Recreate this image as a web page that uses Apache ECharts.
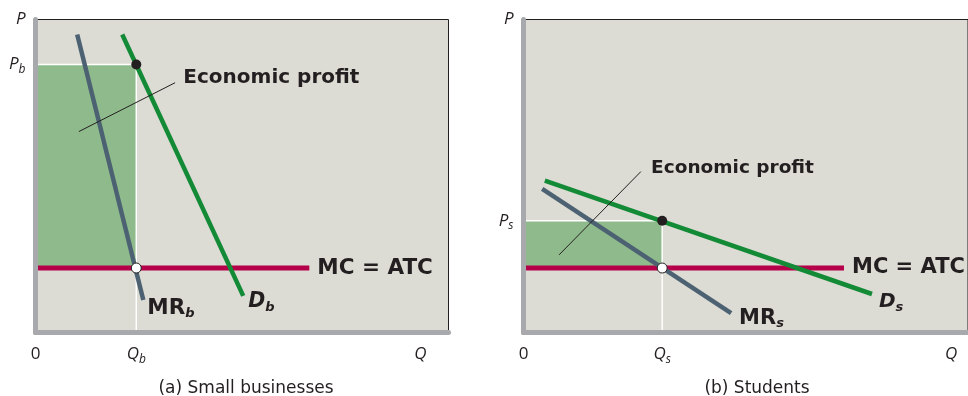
<!DOCTYPE html>
<html>
<head>
<meta charset="utf-8">
<script src="https://cdn.jsdelivr.net/npm/echarts@6/dist/echarts.min.js"></script>
<style>
  html, body { margin: 0; padding: 0; background: #ffffff; }
  #chart { width: 968px; height: 396px; }
</style>
</head>
<body>
<div id="chart"></div>
<script>
// Panel (a): small businesses — axis units run 0..100 on both axes
const demandA = [[21.0, 95.2], [50.3, 11.7]];
const marginalRevenueA = [[10.1, 95.2], [26.1, 10.4]];
const costA = [[0, 20.6], [66.3, 20.6]];
const equilibriumA = [24.4, 85.6];          // Q_b, P_b
const profitPointerA = [[33.8, 79.8], [10.5, 64.2]];
const profitLabelA = [35.8, 81.4];
const qTickA = 93.2;

// Panel (b): students
const demandB = [[4.8, 48.5], [78.4, 12.3]];
const marginalRevenueB = [[4.2, 45.9], [46.7, 6.2]];
const costB = [[0, 20.6], [72.1, 20.6]];
const equilibriumB = [31.2, 35.7];          // Q_s, P_s
const profitPointerB = [[26.4, 51.4], [8.0, 24.8]];
const profitLabelB = [28.7, 52.6];
const qTickB = 96.2;

const axisMax = 100;

// Text labels
const panelTitles = ['(a) Small businesses', '(b) Students'];
const subscripts = ['b', 's'];
const costLabel = 'MC = ATC';
const profitText = 'Economic profit';

const FONT = 'Open Sans';
const BOLD_FONT = 'DejaVu Sans';
const INK = '#231f20';
const BG = '#dcdbd4';
const PROFIT_FILL = '#8fbb8c';
const MC_COLOR = '#b5004a';
const D_COLOR = '#138a36';
const MR_COLOR = '#4c6272';
const AXIS_GREY = '#a8a9ac';

function richFor(boldSize, profitSize) {
  return {
    it: { fontFamily: FONT, fontStyle: 'italic', fontSize: 17, color: INK, lineHeight: 22 },
    sub: { fontFamily: FONT, fontStyle: 'italic', fontSize: 12, color: INK, lineHeight: 12, verticalAlign: 'bottom' },
    num: { fontFamily: FONT, fontSize: 17, color: INK, lineHeight: 22 },
    bold: { fontFamily: BOLD_FONT, fontWeight: 'bold', fontSize: boldSize, color: INK, lineHeight: 24 },
    profit: { fontFamily: BOLD_FONT, fontWeight: 'bold', fontSize: profitSize, color: INK, lineHeight: 24 },
    boldIt: { fontFamily: BOLD_FONT, fontWeight: 'bold', fontStyle: 'italic', fontSize: boldSize - 1, color: INK, lineHeight: 24 },
    boldSub: { fontFamily: BOLD_FONT, fontWeight: 'bold', fontStyle: 'italic', fontSize: 13, color: INK, lineHeight: 12, verticalAlign: 'bottom' }
  };
}
const richA = richFor(21.5, 20);
const richB = richFor(21, 18.5);

const grids = [
  { left: 35.5, top: 19.5, width: 413, height: 313 },
  { left: 523.5, top: 19.5, width: 448, height: 313 }
];

function makeXAxis(i, eq, qTick, sub, rich) {
  return {
    type: 'value', gridIndex: i, min: 0, max: axisMax, z: 5,
    axisLine: { show: true, lineStyle: { color: AXIS_GREY, width: 5 } },
    axisTick: { show: false },
    splitLine: { show: false },
    axisLabel: {
      show: true, margin: 11, customValues: [0, eq[0], qTick],
      formatter: function (v) {
        if (v === 0) return '{num|0}';
        if (v === eq[0]) return '{it|Q}{sub|' + sub + '}';
        return '{it|Q}';
      },
      rich: rich
    }
  };
}

function makeYAxis(i, eq, sub, rich) {
  return {
    type: 'value', gridIndex: i, min: 0, max: axisMax, z: 5,
    axisLine: { show: true, lineStyle: { color: AXIS_GREY, width: 5 } },
    axisTick: { show: false },
    splitLine: { show: false },
    axisLabel: {
      show: true, margin: 10, customValues: [eq[1], axisMax],
      formatter: function (v) {
        if (v === eq[1]) return '{it|P}{sub|' + sub + '}';
        return '{it|P}';
      },
      rich: rich
    }
  };
}

function panelSeries(i, d, mr, mc, eq, pointer, labelPos, sub, mrOffset, dOffset, rich) {
  const ax = { xAxisIndex: i, yAxisIndex: i };
  return [
    // profit rectangle between price and cost at the chosen quantity
    Object.assign({
      type: 'line', data: [], silent: true, z: 1,
      markArea: {
        silent: true,
        itemStyle: { color: PROFIT_FILL, opacity: 1 },
        data: [[{ coord: [0, eq[1]] }, { coord: [eq[0], mc[0][1]] }]]
      }
    }, ax),
    // white guide lines to the axes
    Object.assign({
      type: 'line', data: [[0, eq[1]], [eq[0], eq[1]], [eq[0], 0]],
      symbol: 'none', silent: true, z: 2,
      lineStyle: { color: '#ffffff', width: 1.5 }
    }, ax),
    // pointer to the profit label
    Object.assign({
      type: 'line', data: pointer, symbol: 'none', silent: true, z: 6,
      lineStyle: { color: INK, width: 1 }
    }, ax),
    // marginal cost = average total cost
    Object.assign({
      type: 'line', data: mc, symbol: 'none', z: 3,
      lineStyle: { color: MC_COLOR, width: 5, cap: 'butt' },
      endLabel: { show: true, formatter: '{bold|' + costLabel + '}', rich: rich, distance: 8 }
    }, ax),
    // marginal revenue
    Object.assign({
      type: 'line', data: mr, symbol: 'none', z: 4,
      lineStyle: { color: MR_COLOR, width: 4.5, cap: 'butt' },
      endLabel: { show: true, formatter: '{bold|MR}{boldSub|' + sub + '}', rich: rich, distance: 4, offset: mrOffset }
    }, ax),
    // demand
    Object.assign({
      type: 'line', data: d, symbol: 'none', z: 4,
      lineStyle: { color: D_COLOR, width: 4.5, cap: 'butt' },
      endLabel: { show: true, formatter: '{boldIt|D}{boldSub|' + sub + '}', rich: rich, distance: 5, offset: dOffset }
    }, ax),
    // price on the demand curve
    Object.assign({
      type: 'scatter', data: [eq], symbol: 'circle', symbolSize: 10, z: 7,
      itemStyle: { color: INK, opacity: 1 }
    }, ax),
    // MR = MC
    Object.assign({
      type: 'scatter', data: [[eq[0], mc[0][1]]], symbol: 'circle', symbolSize: 10, z: 7,
      itemStyle: { color: '#ffffff', borderColor: INK, borderWidth: 1, opacity: 1 }
    }, ax),
    // economic profit label
    Object.assign({
      type: 'scatter', data: [labelPos], symbolSize: 0, z: 7,
      itemStyle: { opacity: 1 },
      label: { show: true, position: 'right', distance: 0, formatter: '{profit|' + profitText + '}', rich: rich }
    }, ax)
  ];
}

const chart = echarts.init(document.getElementById('chart'), null, { renderer: 'canvas' });

const captionStyle = { fontFamily: 'DejaVu Sans', fontWeight: 'normal', fontSize: 17, color: INK };

chart.setOption({
  animation: false,
  backgroundColor: '#ffffff',
  title: [
    { text: panelTitles[0], left: 241, top: 375, textAlign: 'center', textStyle: captionStyle },
    { text: panelTitles[1], left: 752, top: 375, textAlign: 'center', textStyle: captionStyle }
  ],
  grid: grids.map(g => Object.assign({
    show: true, backgroundColor: BG, borderColor: INK, borderWidth: 1, containLabel: false
  }, g)),
  xAxis: [makeXAxis(0, equilibriumA, qTickA, subscripts[0], richA), makeXAxis(1, equilibriumB, qTickB, subscripts[1], richB)],
  yAxis: [makeYAxis(0, equilibriumA, subscripts[0], richA), makeYAxis(1, equilibriumB, subscripts[1], richB)],
  series: [].concat(
    panelSeries(0, demandA, marginalRevenueA, costA, equilibriumA, profitPointerA, profitLabelA, subscripts[0], [0, 8], [0, 6], richA),
    panelSeries(1, demandB, marginalRevenueB, costB, equilibriumB, profitPointerB, profitLabelB, subscripts[1], [4, 5], [2, 8], richB)
  )
});
</script>
</body>
</html>
